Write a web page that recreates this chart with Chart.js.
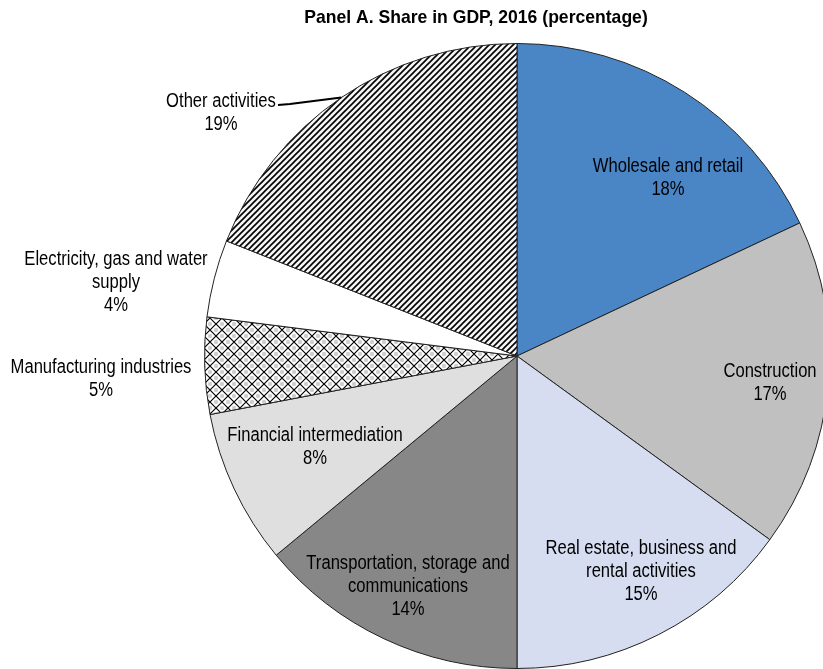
<!DOCTYPE html>
<html>
<head>
<meta charset="utf-8">
<script src="https://cdn.jsdelivr.net/npm/chart.js@4/dist/chart.umd.min.js"></script>
<style>
  html, body { margin: 0; padding: 0; background: #fff; overflow: hidden; width: 823px; height: 669px; }
  #wrap { position: relative; width: 1034px; height: 669px; }
</style>
</head>
<body>
<div id="wrap"><canvas id="c" width="1034" height="669"></canvas></div>
<script>
// GDP shares by activity, 2016 (percent), clockwise from 12 o'clock
const sectors = [
  'Wholesale and retail',
  'Construction',
  'Real estate, business and rental activities',
  'Transportation, storage and communications',
  'Financial intermediation',
  'Manufacturing industries',
  'Electricity, gas and water supply',
  'Other activities'
];
const shares = [18, 17, 15, 14, 8, 5, 4, 19];

// Label text lines per sector (the value line is added from `shares`)
const labelLines = [
  ['Wholesale and retail'],
  ['Construction'],
  ['Real estate, business and', 'rental activities'],
  ['Transportation, storage and', 'communications'],
  ['Financial intermediation'],
  ['Manufacturing industries'],
  ['Electricity, gas and water', 'supply'],
  ['Other activities']
];

const FONT = '"Liberation Sans", Arial, sans-serif';

// Fill patterns
function hatchPattern() {
  const p = document.createElement('canvas');
  p.width = 6; p.height = 6;
  const g = p.getContext('2d');
  g.fillStyle = '#f4f4f4';
  g.fillRect(0, 0, 6, 6);
  g.strokeStyle = '#000';
  g.lineWidth = 1.6;
  g.beginPath();
  g.moveTo(-1, 7); g.lineTo(7, -1);
  g.moveTo(-4, 4); g.lineTo(4, -4);
  g.moveTo(2, 10); g.lineTo(10, 2);
  g.stroke();
  return g.createPattern(p, 'repeat');
}
function diamondPattern() {
  const p = document.createElement('canvas');
  p.width = 12; p.height = 12;
  const g = p.getContext('2d');
  g.fillStyle = '#fff';
  g.fillRect(0, 0, 12, 12);
  g.fillStyle = '#cfcfcf';
  [[6, 0], [0, 6], [12, 6], [6, 12]].forEach(([x, y]) => {
    g.beginPath(); g.arc(x, y, 2.2, 0, Math.PI * 2); g.fill();
  });
  g.strokeStyle = '#000';
  g.lineWidth = 1.2;
  g.beginPath();
  g.moveTo(0, 0); g.lineTo(12, 12);
  g.moveTo(12, 0); g.lineTo(0, 12);
  g.stroke();
  return g.createPattern(p, 'repeat');
}

const fills = [
  '#4a86c6',
  '#c0c0c0',
  '#d6ddf1',
  '#878787',
  '#dfdfdf',
  diamondPattern(),
  '#ffffff',
  hatchPattern()
];

// Label anchors, offset from the pie centre (x centre, y of first line)
const labelOffsets = [
  [151, -190], [253, 15], [124, 192], [-109, 207],
  [-202, 79], [-416, 11], [-401, -97], [-296, -255]
];
const LINE_H = 23;

// condensed text: draw with a horizontal squeeze
function narrowText(ctx, t, x, y, sx) {
  ctx.save();
  ctx.translate(x, y);
  ctx.scale(sx, 1);
  ctx.fillText(t, 0, 0);
  ctx.restore();
}

const labelPlugin = {
  id: 'sliceLabels',
  afterDraw(chart) {
    const ctx = chart.ctx;
    const arcs = chart.getDatasetMeta(0).data;
    const cx = arcs[0].x, cy = arcs[0].y;
    ctx.save();
    ctx.fillStyle = '#000';
    ctx.font = '20px ' + FONT;
    ctx.textAlign = 'center';
    ctx.textBaseline = 'middle';
    labelLines.forEach((lines, i) => {
      const [dx, dy] = labelOffsets[i];
      const all = lines.concat([shares[i] + '%']);
      all.forEach((t, k) => narrowText(ctx, t, cx + dx, cy + dy + k * LINE_H, 0.83));
    });
    // leader line for the last slice
    const last = arcs[arcs.length - 1];
    const mid = (last.startAngle + last.endAngle) / 2;
    const ex = cx + Math.cos(mid) * last.outerRadius;
    const ey = cy + Math.sin(mid) * last.outerRadius;
    const sx = cx + labelOffsets[7][0] + 57, sy = cy + labelOffsets[7][1] + 4;
    ctx.strokeStyle = '#000';
    ctx.lineWidth = 2;
    ctx.beginPath();
    ctx.moveTo(sx, sy);
    ctx.lineTo(sx + 12, sy - 1);
    ctx.lineTo(ex, ey);
    ctx.stroke();
    // panel title
    ctx.font = 'bold 19px ' + FONT;
    narrowText(ctx, 'Panel A. Share in GDP, 2016 (percentage)', 476, 18, 0.925);
    ctx.restore();
  }
};

new Chart(document.getElementById('c'), {
  type: 'pie',
  data: {
    labels: sectors,
    datasets: [{
      data: shares,
      backgroundColor: fills,
      borderColor: '#222',
      borderWidth: 1
    }]
  },
  options: {
    responsive: false,
    animation: false,
    layout: { padding: { top: 43, bottom: 0, left: 0, right: 0 } },
    plugins: {
      legend: { display: false },
      tooltip: { enabled: false },
      title: { display: false }
    }
  },
  plugins: [labelPlugin]
});
</script>
</body>
</html>
